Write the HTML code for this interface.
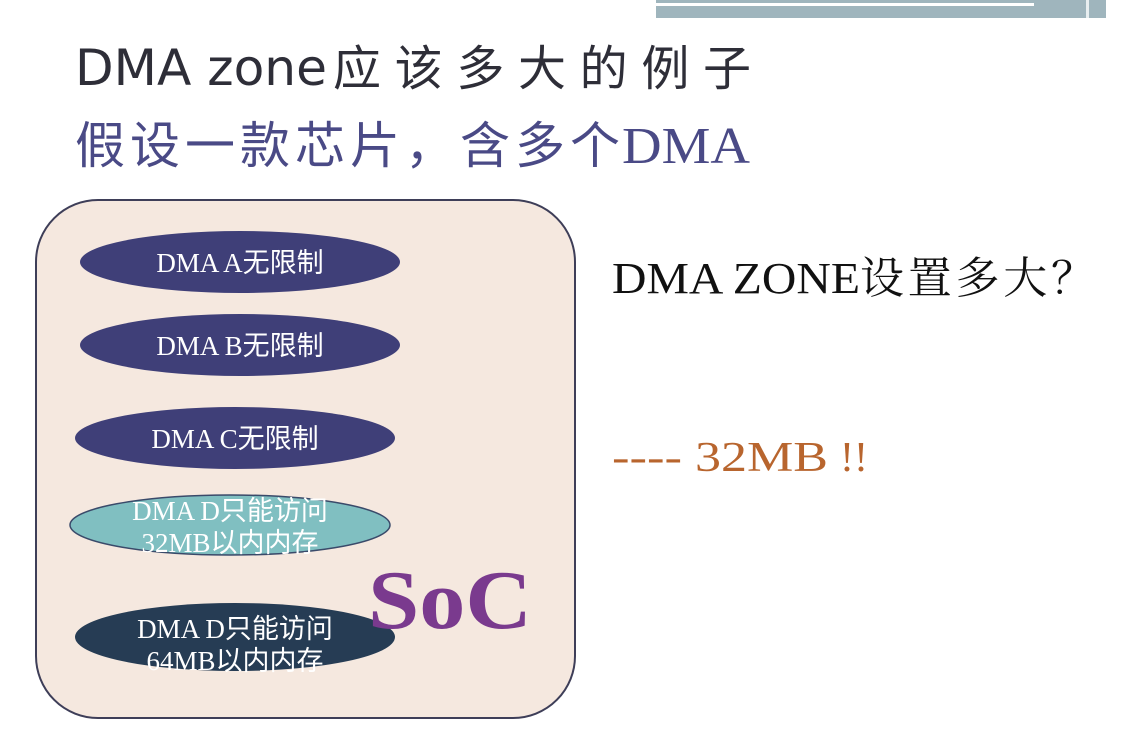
<!DOCTYPE html>
<html><head><meta charset="utf-8"><style>
html,body{margin:0;padding:0;background:#fff;}
svg{display:block;}
</style></head><body>
<svg width="1144" height="746" viewBox="0 0 1144 746" xmlns="http://www.w3.org/2000/svg">
<rect x="656" y="0" width="450" height="18" fill="#9fb5bd"/>
<rect x="656" y="3" width="378" height="3" fill="#fff"/>
<rect x="1086" y="0" width="3" height="18" fill="#e8eef0"/>
<text x="75" y="85" font-family="'DejaVu Sans',sans-serif" font-size="50" fill="#2e2e38" textLength="252" lengthAdjust="spacingAndGlyphs">DMA zone</text>
<text x="333" y="85" font-family="'Noto Sans CJK SC',sans-serif" font-size="48" fill="#2e2e38" textLength="418" lengthAdjust="spacing">应该多大的例子</text>
<text x="75" y="163" font-family="'Noto Sans CJK SC',sans-serif" font-size="50" fill="#4a4a86" textLength="545" lengthAdjust="spacing">假设一款芯片，含多个</text>
<text x="622" y="163" font-family="'Liberation Serif',serif" font-size="52" fill="#4a4a86" textLength="128" lengthAdjust="spacingAndGlyphs">DMA</text>
<rect x="36" y="200" width="539" height="518" rx="62" ry="62" fill="#f5e8df" stroke="#3e3e58" stroke-width="2"/>
<g font-family="'Liberation Serif','Noto Sans CJK SC',serif" font-size="27" fill="#fff" text-anchor="middle">
<ellipse cx="240" cy="262" rx="160" ry="31" fill="#3f3f78"/>
<text x="240" y="272">DMA A无限制</text>
<ellipse cx="240" cy="345" rx="160" ry="31" fill="#3f3f78"/>
<text x="240" y="355">DMA B无限制</text>
<ellipse cx="235" cy="438" rx="160" ry="31" fill="#3f3f78"/>
<text x="235" y="448">DMA C无限制</text>
<ellipse cx="230" cy="525" rx="160" ry="30" fill="#80bfc1" stroke="#3a4a6a" stroke-width="1.5"/>
<text x="230" y="520">DMA D只能访问</text>
<text x="230" y="552">32MB以内内存</text>
<ellipse cx="235" cy="637" rx="160" ry="34" fill="#263c54"/>
<text x="235" y="638">DMA D只能访问</text>
<text x="235" y="670">64MB以内内存</text>
</g>
<text x="368" y="628" font-family="'Liberation Serif',serif" font-size="84" font-weight="bold" fill="#7a3a8e" textLength="164" lengthAdjust="spacingAndGlyphs">SoC</text>
<text x="612" y="293" font-family="'Liberation Serif',serif" font-size="44" fill="#111" textLength="248" lengthAdjust="spacingAndGlyphs">DMA ZONE</text>
<text x="860" y="293" font-family="'Noto Serif CJK SC',serif" font-size="44" fill="#111" textLength="235" lengthAdjust="spacing">设置多大？</text>
<g font-family="'Liberation Serif',serif" font-size="42" fill="#b8652e">
<text x="612" y="471" textLength="70" lengthAdjust="spacingAndGlyphs">----</text>
<text x="695" y="471" textLength="133" lengthAdjust="spacingAndGlyphs">32MB</text>
<text x="840" y="471" textLength="28" lengthAdjust="spacingAndGlyphs">!!</text>
</g>
</svg>
</body></html>
